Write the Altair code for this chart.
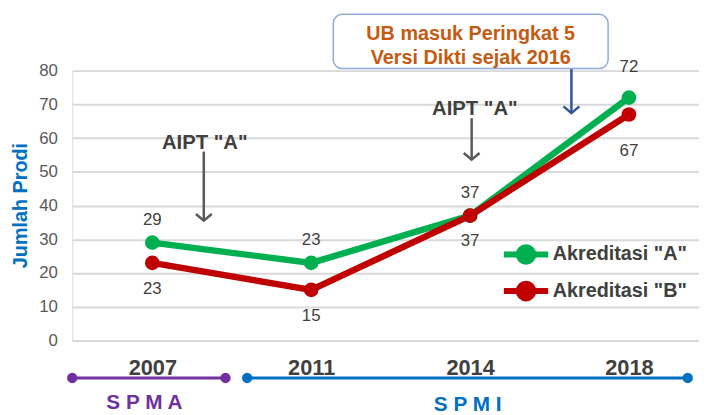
import altair as alt
import pandas as pd

# ---- data ----
years = ["2007", "2011", "2014", "2018"]
akreditasi_a = [29, 23, 37, 72]
akreditasi_b = [23, 15, 37, 67]
series_names = ['Akreditasi "A"', 'Akreditasi "B"']
series_colors = ["#00b050", "#c00000"]
y_ticks = [0, 10, 20, 30, 40, 50, 60, 70, 80]

# annotation texts
aipt_text = ['AIPT "A"', 'AIPT "A"']
box_lines = ["UB masuk Peringkat 5", "Versi Dikti sejak 2016"]
period_names = ["S P M A", "S P M I"]
period_colors = ["#7030a0", "#0070c0"]

rows = []
for name, vals in zip(series_names, [akreditasi_a, akreditasi_b]):
    for i, (yr, v) in enumerate(zip(years, vals)):
        rows.append({"idx": i, "year": yr, "value": v, "series": name})
df = pd.DataFrame(rows)

# annotation anchors (data coordinates: x = category index, y = Jumlah Prodi)
aipt_df = pd.DataFrame({"label": aipt_text, "x": [0.33, 2.03], "y": [58.6, 68.7],
                        "ax": [0.324, 2.01], "top": [56.0, 65.9], "tip": [35.5, 53.6]})
box_df = pd.DataFrame({"x": [1.139], "x2": [2.869], "y": [96.7], "y2": [80.6]})
box_text_df = pd.DataFrame({"label": box_lines, "x": [2.004, 2.004], "y": [90.8, 83.8]})
blue_arrow_df = pd.DataFrame({"ax": [2.638], "top": [80.6], "tip": [67.4]})
period_df = pd.DataFrame({"name": period_names, "color": period_colors,
                          "start": [-0.504, 0.597], "end": [0.4605, 3.37],
                          "mid": [-0.05, 1.985], "line_y": [-11.1, -11.1],
                          "text_y": [-18.4, -19.0]})
period_pts = pd.concat([
    period_df[["name", "color", "start", "line_y"]].rename(columns={"start": "x"}),
    period_df[["name", "color", "end", "line_y"]].rename(columns={"end": "x"}),
])

FONT = "Liberation Sans"
xscale = alt.Scale(domain=[-0.504, 3.441], nice=False, zero=False)
yscale = alt.Scale(domain=[0, 80], nice=False)

label_expr = "[" + ",".join('"%s"' % y for y in years) + "][datum.value]"

x_axis = alt.Axis(values=[0, 1, 2, 3], labelExpr=label_expr, grid=False,
                  domain=False, ticks=False, labelPadding=17,
                  labelFont=FONT, labelFontSize=22,
                  labelFontWeight="bold", labelColor="#404040", title=None)
y_axis = alt.Axis(values=y_ticks, tickCount=9, grid=True,
                  labelOverlap=False,
                  gridColor="#d9d9d9", gridWidth=2, domain=False, ticks=False,
                  labelPadding=15, labelFontSize=17, labelColor="#595959",
                  labelFont=FONT,
                  title="Jumlah Prodi", titleFont=FONT, titleFontSize=20,
                  titleFontWeight="bold", titleColor="#0070c0",
                  titleX=-52, titleY=136, titleAngle=270,
                  titleAlign="center", titleBaseline="middle")


def X(field):
    return alt.X(field, type="quantitative", scale=xscale, axis=x_axis)


def Y(field):
    return alt.Y(field, type="quantitative", scale=yscale, axis=y_axis)


color_scale = alt.Scale(domain=series_names, range=series_colors)
legend_path = ("M-1.6,0L1.6,0M-0.53,0A0.53,0.53,0,1,0,0.53,0"
               "A0.53,0.53,0,1,0,-0.53,0Z")
legend = alt.Legend(title=None, orient="none", legendX=442, legendY=169,
                    symbolType=legend_path, symbolSize=784, symbolStrokeWidth=6,
                    labelFont=FONT, labelFontSize=20, labelFontWeight="bold",
                    labelColor="#404040", labelOffset=10, rowPadding=-5,
                    labelLimit=400, padding=0)

base = alt.Chart(df)

lines = base.mark_line(strokeWidth=6.5).encode(
    x=X("idx"), y=Y("value"),
    color=alt.Color("series:N", scale=color_scale, legend=legend))
points = base.mark_point(filled=True, size=220, opacity=1).encode(
    x=X("idx"), y=Y("value"),
    color=alt.Color("series:N", scale=color_scale, legend=legend))

txt = dict(font=FONT, fontSize=17, color="#404040")
lab_a = base.transform_filter(
    (alt.datum.series == series_names[0]) & (alt.datum.idx < 3)
).mark_text(dy=-23, **txt).encode(x=X("idx"), y=Y("value"), text="value:Q")
lab_a_last = base.transform_filter(
    (alt.datum.series == series_names[0]) & (alt.datum.idx == 3)
).mark_text(dy=-31, **txt).encode(x=X("idx"), y=Y("value"), text="value:Q")
lab_b = base.transform_filter(
    (alt.datum.series == series_names[1]) & (alt.datum.idx < 3)
).mark_text(dy=26, **txt).encode(x=X("idx"), y=Y("value"), text="value:Q")
lab_b_last = base.transform_filter(
    (alt.datum.series == series_names[1]) & (alt.datum.idx == 3)
).mark_text(dy=37, **txt).encode(x=X("idx"), y=Y("value"), text="value:Q")

# AIPT annotations
aipt = alt.Chart(aipt_df)
aipt_text_l = aipt.mark_text(font=FONT, fontSize=20.5, fontWeight="bold",
                             color="#404040").encode(x=X("x"), y=Y("y"), text="label:N")
aipt_shaft = aipt.mark_rule(strokeWidth=2.5, color="#595959").encode(
    x=X("ax"), y=Y("top"), y2="tip:Q")
arrow_head = "M-1,-0.85L0,0L1,-0.85"
aipt_head = aipt.mark_point(shape=arrow_head, filled=False, size=256, strokeWidth=2.5,
                            color="#595959", opacity=1).encode(x=X("ax"), y=Y("tip"))

# UB box annotation
box = alt.Chart(box_df).mark_rect(cornerRadius=9, fill="white", stroke="#8faadc",
                                  strokeWidth=1.5).encode(
    x=X("x"), x2="x2:Q", y=Y("y"), y2="y2:Q")
box_text = alt.Chart(box_text_df).mark_text(font=FONT, fontSize=20, fontWeight="bold",
                                            color="#c55a11").encode(
    x=X("x"), y=Y("y"), text="label:N")
ba = alt.Chart(blue_arrow_df)
blue_shaft = ba.mark_rule(strokeWidth=2.5, color="#2f5597").encode(
    x=X("ax"), y=Y("top"), y2="tip:Q")
blue_head = ba.mark_point(shape=arrow_head, filled=False, size=256, strokeWidth=2.5,
                          color="#2f5597", opacity=1).encode(x=X("ax"), y=Y("tip"))

# SPMA / SPMI timeline
period_lines = alt.Chart(period_df).mark_rule(strokeWidth=3).encode(
    x=X("start"), x2="end:Q", y=Y("line_y"),
    color=alt.Color("color:N", scale=None))
period_dots = alt.Chart(period_pts).mark_point(filled=True, size=110, opacity=1).encode(
    x=X("x"), y=Y("line_y"), color=alt.Color("color:N", scale=None))
period_text = alt.Chart(period_df).mark_text(font=FONT, fontSize=21,
                                             fontWeight="bold").encode(
    x=X("mid"), y=Y("text_y"), text="name:N", color=alt.Color("color:N", scale=None))

chart = alt.layer(
    lines, points, lab_a, lab_a_last, lab_b, lab_b_last,
    aipt_shaft, aipt_head, aipt_text_l,
    blue_shaft, blue_head, box, box_text,
    period_lines, period_dots, period_text,
).properties(
    width=634, height=273,
    autosize=alt.AutoSizeParams(type="none"),
    padding={"left": 65, "top": 61, "right": 0, "bottom": 73},
).configure_view(stroke=None).configure(background="white")

chart.save("out.html", embed_options={"renderer": "svg", "actions": False})
